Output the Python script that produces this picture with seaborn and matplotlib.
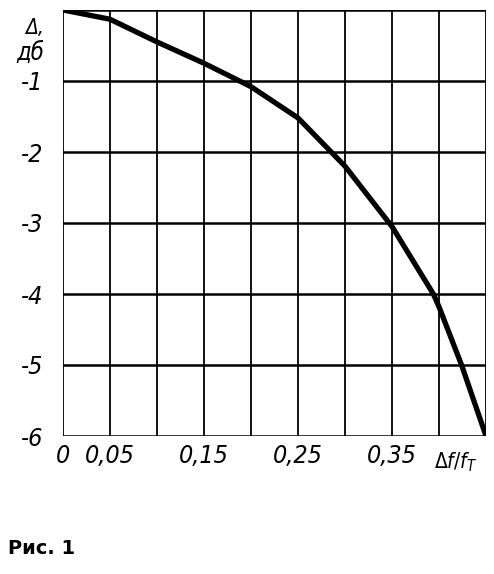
import pandas as pd
import matplotlib.pyplot as plt
import seaborn as sns

# values
freq = [0.0, 0.05, 0.10, 0.15, 0.20, 0.25, 0.30, 0.35, 0.394, 0.40, 0.424, 0.45]
atten = [0.0, -0.13, -0.45, -0.75, -1.08, -1.52, -2.2, -3.05, -4.0, -4.18, -5.0, -6.0]

x_ticks = [0, 0.05, 0.15, 0.25, 0.35]
x_labels = ['0', '0,05', '0,15', '0,25', '0,35']
y_ticks = [-1, -2, -3, -4, -5, -6]
y_labels = ['-1', '-2', '-3', '-4', '-5', '-6']


def main():
    sns.set_style('white')
    plt.rcParams['font.family'] = ['DejaVu Sans']
    plt.rcParams['font.stretch'] = 'condensed'
    plt.rcParams['text.color'] = 'black'
    plt.rcParams['xtick.color'] = 'black'
    plt.rcParams['ytick.color'] = 'black'

    df = pd.DataFrame({'f': freq, 'a': atten})

    fig = plt.figure(figsize=(4.94, 5.74), dpi=100)
    ax = fig.add_axes([63 / 494, 138 / 574, 423 / 494, 426 / 574])

    # grid
    for i in range(10):
        ax.axvline(i * 0.05, color='black', lw=1.3, zorder=1)
    for j in range(7):
        ax.axhline(-j, color='black', lw=1.8, zorder=1)

    sns.lineplot(data=df, x='f', y='a', ax=ax, color='black', lw=3.8,
                 solid_capstyle='round', solid_joinstyle='round', zorder=3)

    ax.set_xlim(0, 0.45)
    ax.set_ylim(-6, 0)
    for s in ax.spines.values():
        s.set_visible(False)

    ax.set_xticks(x_ticks)
    ax.set_xticklabels(x_labels, fontsize=18, style='italic')
    ax.set_yticks(y_ticks)
    ax.set_yticklabels(y_labels, fontsize=18, style='italic')
    ax.tick_params(length=0, pad=6)
    ax.tick_params(axis='y', pad=14)
    ax.set_xlabel('')
    ax.set_ylabel('')

    fig.text(456 / 494, 1 - 462 / 574, r'$\Delta f/f_T$', fontsize=15,
             ha='center', va='center')
    fig.text(44 / 494, 1 - 28 / 574, 'Δ,', fontsize=15, style='italic',
             ha='right', va='center')
    fig.text(44 / 494, 1 - 53 / 574, 'дб', fontsize=17, style='italic',
             ha='right', va='center')
    fig.text(8 / 494, 1 - 548 / 574, 'Рис. 1', fontsize=14, weight='heavy',
             stretch='normal', va='center')

    plt.savefig('out.png', dpi=100)
    plt.close()


if __name__ == '__main__':
    main()
